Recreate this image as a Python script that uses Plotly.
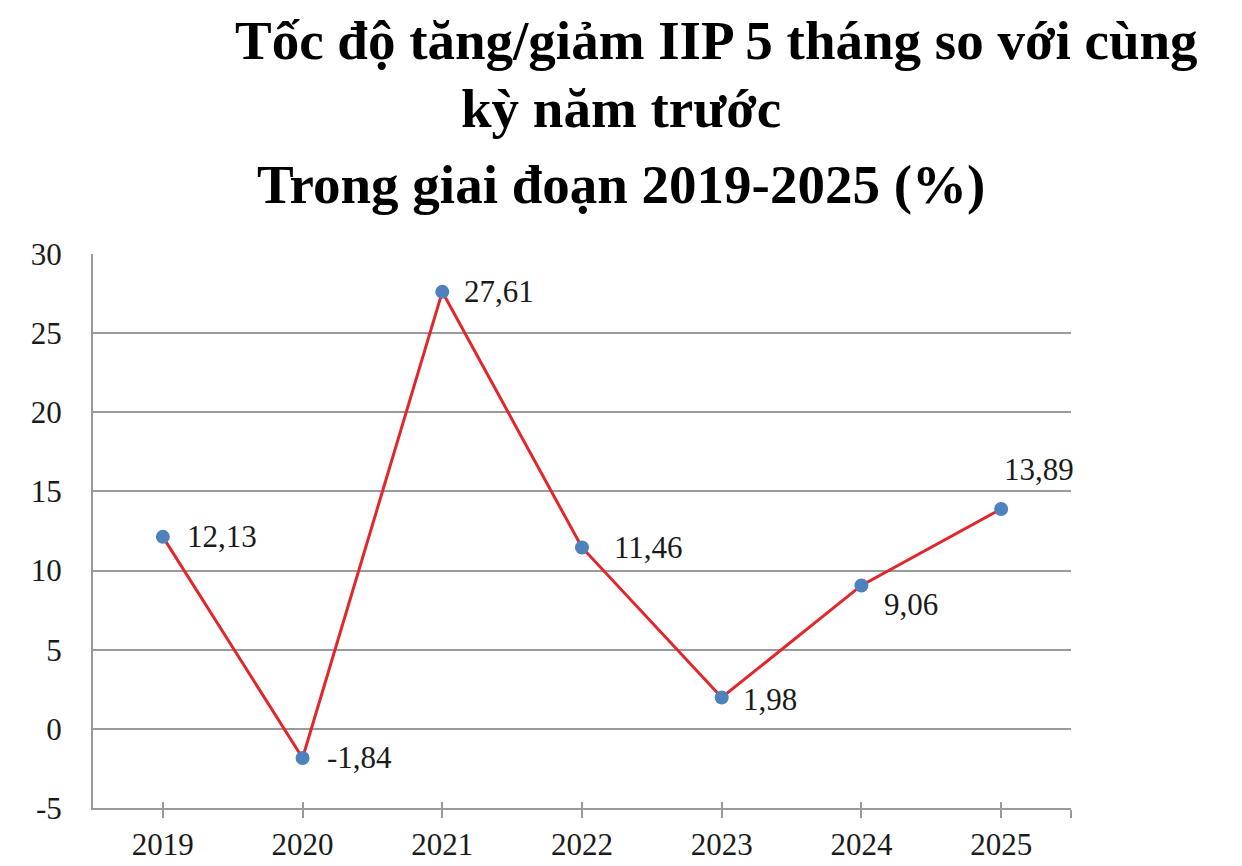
import plotly.graph_objects as go

years = ["2019", "2020", "2021", "2022", "2023", "2024", "2025"]
values = [12.13, -1.84, 27.61, 11.46, 1.98, 9.06, 13.89]
labels = ["12,13", "-1,84", "27,61", "11,46", "1,98", "9,06", "13,89"]
# label offsets in pixels (style only)
lab_dx = [22, 22, 20, 30, 19, 21, 1]
lab_dy = [0, 0, 0, 0, -2, -19, 40]

title_lines = ["Tốc độ tăng/giảm IIP 5 tháng so với cùng",
               "kỳ năm trước",
               "Trong giai đoạn 2019-2025 (%)"]
title_x = [0.638, 0.540, 0.540]
title_ypx = [32, 100, 176]

y_ticks = [-5, 0, 5, 10, 15, 20, 25, 30]
y_ticktext = ["-5", "0", "5", "10", "15", "20", "25", "30"]

FONT = "Liberation Serif"
GRAY = "#9a9a9a"

# page body has an 8px margin, so the figure is slightly smaller
W, H = 1234, 858
ml, mr, mt, mb = 85, 171, 246, 58
ph = H - mt - mb

xs = list(range(len(years)))

fig = go.Figure()
fig.add_trace(go.Scatter(
    x=xs, y=values, mode="lines+markers",
    line=dict(color="#e2262b", width=3),
    marker=dict(color="#4f81bd", size=14),
    showlegend=False, hoverinfo="skip"))
# invisible trace to activate secondary x axis (for inside tick marks)
fig.add_trace(go.Scatter(x=[xs[0]], y=[values[0]], xaxis="x2", mode="markers",
                         marker=dict(opacity=0), showlegend=False, hoverinfo="skip"))

ann = []
for i, (v, t) in enumerate(zip(values, labels)):
    ann.append(dict(x=xs[i], y=v, xref="x", yref="y", text=t, showarrow=False,
                    xanchor="left", yanchor="middle", xshift=lab_dx[i], yshift=lab_dy[i],
                    font=dict(family=FONT, size=31, color="#1a1a1a")))
for t, x, ypx in zip(title_lines, title_x, title_ypx):
    ann.append(dict(x=x, y=(H - mb - ypx) / ph, xref="paper", yref="paper", text="<b>" + t + "</b>",
                    showarrow=False, xanchor="center", yanchor="middle",
                    font=dict(family=FONT, size=55, color="#000000")))

tickvals = xs + [len(xs) - 0.5]
ticktext = years + [""]

fig.update_layout(
    width=W, height=H,
    margin=dict(l=ml, r=mr, t=mt, b=mb, autoexpand=False),
    paper_bgcolor="white", plot_bgcolor="white",
    annotations=ann,
    xaxis=dict(range=[-0.5, len(xs) - 0.5], tickmode="array", tickvals=tickvals, ticktext=ticktext,
               showgrid=False, zeroline=False, showline=True, linecolor=GRAY, linewidth=2,
               ticks="outside", ticklen=8, tickwidth=2, tickcolor=GRAY,
               ticklabelstandoff=0, automargin=False,
               tickfont=dict(family=FONT, size=31, color="#1a1a1a")),
    xaxis2=dict(range=[-0.5, len(xs) - 0.5], overlaying="x", side="bottom", anchor="y",
                tickmode="array", tickvals=tickvals, showticklabels=False,
                showgrid=False, zeroline=False, showline=False, automargin=False,
                ticks="inside", ticklen=6, tickwidth=2, tickcolor=GRAY),
    yaxis=dict(range=[-5, 30], tickmode="array", tickvals=y_ticks, ticktext=y_ticktext,
               showgrid=True, gridcolor=GRAY, gridwidth=1.5, zeroline=False,
               showline=True, linecolor=GRAY, linewidth=2, ticks="",
               ticklabelstandoff=23, automargin=False,
               tickfont=dict(family=FONT, size=31, color="#1a1a1a")),
)

fig.write_html("out.html")
